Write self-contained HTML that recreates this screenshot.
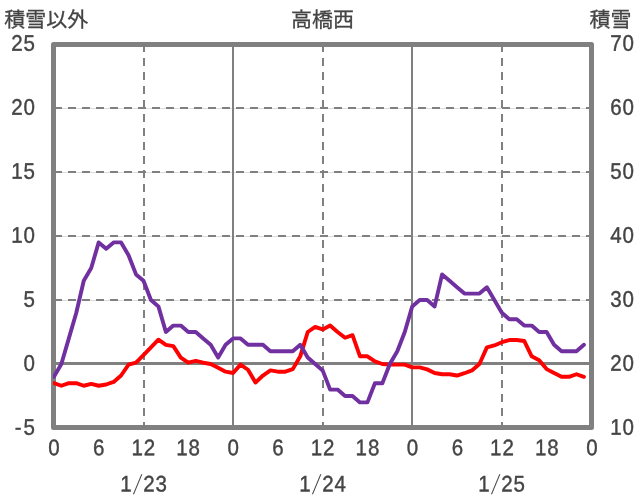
<!DOCTYPE html>
<html lang="ja"><head><meta charset="utf-8"><title>高橋西</title>
<style>html,body{margin:0;padding:0;background:#fff;}svg{display:block;}text{font-family:"Liberation Sans", "Noto Sans CJK JP", sans-serif;fill:#444444;}</style></head><body>
<svg width="636" height="501" viewBox="0 0 636 501">
<rect x="0" y="0" width="636" height="501" fill="#ffffff"/>
<line x1="56" y1="108.5" x2="589" y2="108.5" stroke="#dedede" stroke-width="1"/>
<line x1="54" y1="108" x2="592" y2="108" stroke="#808080" stroke-width="2" stroke-dasharray="8 6"/>
<line x1="56" y1="172.5" x2="589" y2="172.5" stroke="#dedede" stroke-width="1"/>
<line x1="54" y1="172" x2="592" y2="172" stroke="#808080" stroke-width="2" stroke-dasharray="8 6"/>
<line x1="56" y1="236.5" x2="589" y2="236.5" stroke="#dedede" stroke-width="1"/>
<line x1="54" y1="236" x2="592" y2="236" stroke="#808080" stroke-width="2" stroke-dasharray="8 6"/>
<line x1="56" y1="300.5" x2="589" y2="300.5" stroke="#dedede" stroke-width="1"/>
<line x1="54" y1="300" x2="592" y2="300" stroke="#808080" stroke-width="2" stroke-dasharray="8 6"/>
<line x1="144" y1="44" x2="144" y2="428" stroke="#808080" stroke-width="2" stroke-dasharray="8 6"/>
<line x1="233" y1="44" x2="233" y2="428" stroke="#808080" stroke-width="2"/>
<line x1="323" y1="44" x2="323" y2="428" stroke="#808080" stroke-width="2" stroke-dasharray="8 6"/>
<line x1="412" y1="44" x2="412" y2="428" stroke="#808080" stroke-width="2"/>
<line x1="502" y1="44" x2="502" y2="428" stroke="#808080" stroke-width="2" stroke-dasharray="8 6"/>
<line x1="54" y1="363.5" x2="592" y2="363.5" stroke="#808080" stroke-width="3"/>
<rect x="53.5" y="44.5" width="538" height="383" fill="none" stroke="#808080" stroke-width="5" stroke-linejoin="round"/>
<defs><clipPath id="pa"><rect x="53" y="43" width="541" height="386"/></clipPath></defs>
<g clip-path="url(#pa)">
<polyline fill="none" stroke="#ff0000" stroke-width="3.9" stroke-linejoin="round" stroke-linecap="round" points="53.90,383.20 61.37,385.76 68.83,383.20 76.30,383.20 83.76,385.76 91.23,383.84 98.69,385.76 106.16,384.48 113.62,381.92 121.09,375.52 128.55,364.64 136.02,362.72 143.48,355.04 150.95,347.36 158.41,339.68 165.88,344.80 173.34,346.08 180.81,357.60 188.28,362.72 195.74,360.80 203.21,362.72 210.67,364.00 218.14,367.84 225.60,371.68 233.07,372.96 240.53,364.64 248.00,369.76 255.46,382.56 262.93,375.52 270.39,370.40 277.86,371.68 285.32,371.68 292.79,369.12 300.25,356.32 307.72,332.00 315.18,326.88 322.65,329.44 330.12,325.60 337.58,332.00 345.05,337.76 352.51,335.20 359.98,356.32 367.44,356.32 374.91,361.44 382.37,364.00 389.84,364.64 397.30,364.64 404.77,364.64 412.23,367.33 419.70,367.33 427.16,369.38 434.63,372.96 442.09,374.24 449.56,374.24 457.02,375.52 464.49,373.22 471.96,370.40 479.42,364.00 486.89,347.36 494.35,345.44 501.82,342.24 509.28,340.06 516.75,340.06 524.21,340.96 531.68,356.32 539.14,360.16 546.61,369.12 554.07,372.96 561.54,376.80 569.00,376.80 576.47,374.24 583.93,376.80"/>
<polyline fill="none" stroke="#7030a0" stroke-width="3.9" stroke-linejoin="round" stroke-linecap="round" points="53.90,376.80 61.37,364.00 68.83,338.40 76.30,312.80 83.76,280.80 91.23,268.00 98.69,242.40 106.16,248.80 113.62,242.40 121.09,242.40 128.55,255.20 136.02,274.40 143.48,280.80 150.95,300.00 158.41,306.40 165.88,332.00 173.34,325.60 180.81,325.60 188.28,332.00 195.74,332.00 203.21,338.40 210.67,344.80 218.14,357.60 225.60,344.80 233.07,338.40 240.53,338.40 248.00,344.80 255.46,344.80 262.93,344.80 270.39,351.20 277.86,351.20 285.32,351.20 292.79,351.20 300.25,344.80 307.72,357.60 315.18,364.00 322.65,370.40 330.12,389.60 337.58,389.60 345.05,396.00 352.51,396.00 359.98,402.40 367.44,402.40 374.91,383.20 382.37,383.20 389.84,364.00 397.30,351.20 404.77,332.00 412.23,306.40 419.70,300.00 427.16,300.00 434.63,306.40 442.09,274.40 449.56,280.80 457.02,287.20 464.49,293.60 471.96,293.60 479.42,293.60 486.89,287.20 494.35,300.00 501.82,312.80 509.28,319.20 516.75,319.20 524.21,325.60 531.68,325.60 539.14,332.00 546.61,332.00 554.07,344.80 561.54,351.20 569.00,351.20 576.47,351.20 583.93,344.80"/>
</g>
<text transform="translate(4.3 27.2) scale(1 0.95)" x="0" y="0" font-size="21" stroke="#444444" stroke-width="0.3">積雪以外</text>
<text transform="translate(322.5 26.5) scale(1 0.95)" x="0" y="0" font-size="21" text-anchor="middle" stroke="#444444" stroke-width="0.3">高橋西</text>
<text transform="translate(631.5 27.1) scale(1 0.95)" x="0" y="0" font-size="21" text-anchor="end" stroke="#444444" stroke-width="0.3">積雪</text>
<text transform="translate(11.14 50.70) scale(0.912 1) rotate(0.03)" x="0.00 13.49" y="0" font-size="22.5" stroke="#444444" stroke-width="0.4">25</text>
<text transform="translate(11.14 114.70) scale(0.912 1) rotate(0.03)" x="0.00 13.49" y="0" font-size="22.5" stroke="#444444" stroke-width="0.4">20</text>
<text transform="translate(11.14 178.70) scale(0.912 1) rotate(0.03)" x="0.00 13.49" y="0" font-size="22.5" stroke="#444444" stroke-width="0.4">15</text>
<text transform="translate(11.14 242.70) scale(0.912 1) rotate(0.03)" x="0.00 13.49" y="0" font-size="22.5" stroke="#444444" stroke-width="0.4">10</text>
<text transform="translate(23.44 306.70) scale(0.912 1) rotate(0.03)" x="0.00" y="0" font-size="22.5" stroke="#444444" stroke-width="0.4">5</text>
<text transform="translate(23.44 370.70) scale(0.912 1) rotate(0.03)" x="0.00" y="0" font-size="22.5" stroke="#444444" stroke-width="0.4">0</text>
<text transform="translate(14.65 434.70) scale(0.912 1) rotate(0.03)" x="0.00 9.64" y="0" font-size="22.5" stroke="#444444" stroke-width="0.4">-5</text>
<text transform="translate(610.14 50.70) scale(0.912 1) rotate(0.03)" x="0.00 13.49" y="0" font-size="22.5" stroke="#444444" stroke-width="0.4">70</text>
<text transform="translate(610.14 114.70) scale(0.912 1) rotate(0.03)" x="0.00 13.49" y="0" font-size="22.5" stroke="#444444" stroke-width="0.4">60</text>
<text transform="translate(610.14 178.70) scale(0.912 1) rotate(0.03)" x="0.00 13.49" y="0" font-size="22.5" stroke="#444444" stroke-width="0.4">50</text>
<text transform="translate(610.14 242.70) scale(0.912 1) rotate(0.03)" x="0.00 13.49" y="0" font-size="22.5" stroke="#444444" stroke-width="0.4">40</text>
<text transform="translate(610.14 306.70) scale(0.912 1) rotate(0.03)" x="0.00 13.49" y="0" font-size="22.5" stroke="#444444" stroke-width="0.4">30</text>
<text transform="translate(610.14 370.70) scale(0.912 1) rotate(0.03)" x="0.00 13.49" y="0" font-size="22.5" stroke="#444444" stroke-width="0.4">20</text>
<text transform="translate(610.14 434.70) scale(0.912 1) rotate(0.03)" x="0.00 13.49" y="0" font-size="22.5" stroke="#444444" stroke-width="0.4">10</text>
<text transform="translate(48.19 455.30) scale(0.912 1) rotate(0.03)" x="0.00" y="0" font-size="22.5" stroke="#444444" stroke-width="0.4">0</text>
<text transform="translate(93.03 455.30) scale(0.912 1) rotate(0.03)" x="0.00" y="0" font-size="22.5" stroke="#444444" stroke-width="0.4">6</text>
<text transform="translate(131.41 455.30) scale(0.912 1) rotate(0.03)" x="0.00 13.49" y="0" font-size="22.5" stroke="#444444" stroke-width="0.4">12</text>
<text transform="translate(176.24 455.30) scale(0.912 1) rotate(0.03)" x="0.00 13.49" y="0" font-size="22.5" stroke="#444444" stroke-width="0.4">18</text>
<text transform="translate(227.53 455.30) scale(0.912 1) rotate(0.03)" x="0.00" y="0" font-size="22.5" stroke="#444444" stroke-width="0.4">0</text>
<text transform="translate(272.36 455.30) scale(0.912 1) rotate(0.03)" x="0.00" y="0" font-size="22.5" stroke="#444444" stroke-width="0.4">6</text>
<text transform="translate(310.74 455.30) scale(0.912 1) rotate(0.03)" x="0.00 13.49" y="0" font-size="22.5" stroke="#444444" stroke-width="0.4">12</text>
<text transform="translate(355.58 455.30) scale(0.912 1) rotate(0.03)" x="0.00 13.49" y="0" font-size="22.5" stroke="#444444" stroke-width="0.4">18</text>
<text transform="translate(406.86 455.30) scale(0.912 1) rotate(0.03)" x="0.00" y="0" font-size="22.5" stroke="#444444" stroke-width="0.4">0</text>
<text transform="translate(451.69 455.30) scale(0.912 1) rotate(0.03)" x="0.00" y="0" font-size="22.5" stroke="#444444" stroke-width="0.4">6</text>
<text transform="translate(490.08 455.30) scale(0.912 1) rotate(0.03)" x="0.00 13.49" y="0" font-size="22.5" stroke="#444444" stroke-width="0.4">12</text>
<text transform="translate(534.91 455.30) scale(0.912 1) rotate(0.03)" x="0.00 13.49" y="0" font-size="22.5" stroke="#444444" stroke-width="0.4">18</text>
<text transform="translate(586.19 455.30) scale(0.912 1) rotate(0.03)" x="0.00" y="0" font-size="22.5" stroke="#444444" stroke-width="0.4">0</text>
<text transform="translate(120.34 491.4) scale(0.912 1) rotate(0.03)" x="0" y="0" font-size="22.5" stroke="#444444" stroke-width="0.4">1</text>
<text transform="translate(135.00 493.6) skewX(-15.5) scale(0.62 1.21)" x="0" y="0" font-size="22.5" text-anchor="middle">/</text>
<text transform="translate(143.14 491.4) scale(0.912 1) rotate(0.03)" x="0 13.49" y="0" font-size="22.5" stroke="#444444" stroke-width="0.4">23</text>
<text transform="translate(299.34 491.4) scale(0.912 1) rotate(0.03)" x="0" y="0" font-size="22.5" stroke="#444444" stroke-width="0.4">1</text>
<text transform="translate(314.00 493.6) skewX(-15.5) scale(0.62 1.21)" x="0" y="0" font-size="22.5" text-anchor="middle">/</text>
<text transform="translate(322.14 491.4) scale(0.912 1) rotate(0.03)" x="0 13.49" y="0" font-size="22.5" stroke="#444444" stroke-width="0.4">24</text>
<text transform="translate(478.34 491.4) scale(0.912 1) rotate(0.03)" x="0" y="0" font-size="22.5" stroke="#444444" stroke-width="0.4">1</text>
<text transform="translate(493.00 493.6) skewX(-15.5) scale(0.62 1.21)" x="0" y="0" font-size="22.5" text-anchor="middle">/</text>
<text transform="translate(501.14 491.4) scale(0.912 1) rotate(0.03)" x="0 13.49" y="0" font-size="22.5" stroke="#444444" stroke-width="0.4">25</text>
</svg></body></html>
